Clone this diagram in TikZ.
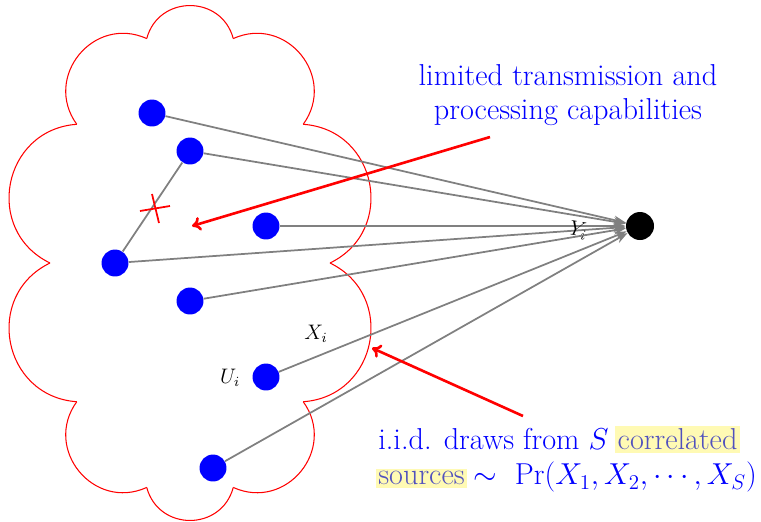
\documentclass[tikz,border=0pt]{standalone}
\usetikzlibrary{arrows.meta}
\definecolor{hlyellow}{RGB}{255,250,180}
\definecolor{hltext}{RGB}{80,80,190}
\newcommand\myhl[1]{{\setlength{\fboxsep}{1.5pt}\hspace{-1.5pt}\colorbox{hlyellow}{\color{hltext}#1}\hspace{-1.5pt}}}
\begin{document}
\begin{tikzpicture}[x=0.5714pt,y=-0.5714pt,
  dot/.style={circle,fill=blue,minimum size=15.4pt,inner sep=0pt},
  sinkdot/.style={circle,fill=black,minimum size=16pt,inner sep=0pt},
  link/.style={draw=gray,line width=1pt,-{Stealth[length=7pt,width=5pt]}},
  plainlink/.style={draw=gray,line width=1pt},
  redarrow/.style={draw=red,line width=1.5pt,-{To[length=5pt,width=8pt]}},
  cloudline/.style={draw=red,line width=0.6pt},
  crossline/.style={draw=red,line width=1pt},
  lbl/.style={font=\large},
  note/.style={text=blue,font=\LARGE}]
\useasboundingbox (0,0) rectangle (761,521);
% cloud
\foreach \i in {0,...,9}{
  \draw[cloudline] ({190+140*cos(36*\i)},{263-236*sin(36*\i)})
    to[bend right=75,looseness=1.35]
    ({190+140*cos(36*\i+36)},{263-236*sin(36*\i+36)});
}
% nodes
\node[dot] (n1) at (152,113) {};
\node[dot] (n2) at (190,151) {};
\node[dot] (n3) at (266,226) {};
\node[dot] (n4) at (115,263) {};
\node[dot] (n5) at (190,301) {};
\node[dot] (n6) at (266,377) {};
\node[dot] (n7) at (213,468) {};
\node[sinkdot] (sink) at (640,226) {};
% connectors
\draw[link] (n1) -- (sink);
\draw[link] (n2) -- (sink);
\draw[link] (n3) -- (sink);
\draw[link] (n4) -- node[lbl,pos=0.905,rotate=-10] {$Y_i$} (sink);
\draw[link] (n5) -- (sink);
\draw[link] (n6) -- (sink);
\draw[link] (n7) -- (sink);
\draw[plainlink] (n2) -- (n4);
\node[lbl] (xlabel) at (316,334) {$X_i$};
\node[lbl] (ulabel) at (230,378) {$U_i$};
% cross
\coordinate (c1a) at (140,211);
\coordinate (c1b) at (170,206);
\coordinate (c2a) at (152,194);
\coordinate (c2b) at (159,223);
\draw[crossline] (c1a) -- (c1b);
\draw[crossline] (c2a) -- (c2b);
% texts
\node[note,align=center] (top) at (568,95) {limited transmission and\\[-3pt]processing capabilities};
\node[note,align=left,anchor=north west,inner sep=0pt] (src) at (378,426)
  {i.i.d. draws from $S$ \myhl{correlated}\\[-2pt]\myhl{sources} $\sim\ \Pr(X_1,X_2,\cdots,X_S)$};
% red arrows
\coordinate (a1s) at (490,137);
\coordinate (a1e) at (192,226);
\coordinate (a2s) at (523,416);
\coordinate (a2e) at (372,348);
\draw[redarrow] (a1s) -- (a1e);
\draw[redarrow] (a2s) -- (a2e);
\end{tikzpicture}
\end{document}
